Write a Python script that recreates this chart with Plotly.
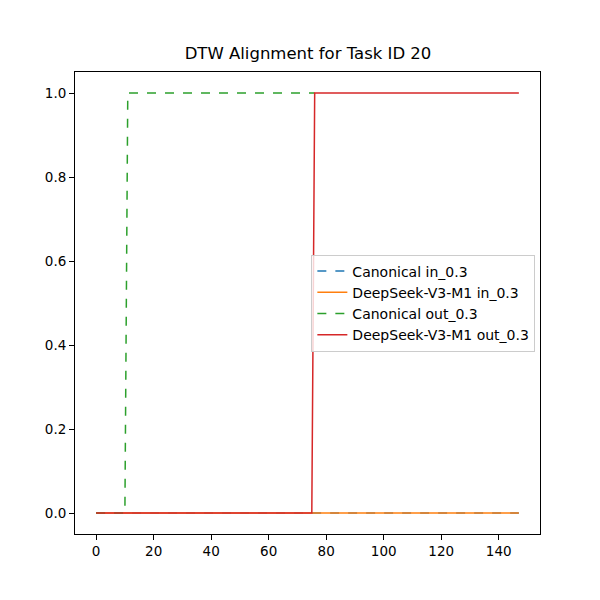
import plotly.graph_objects as go

canon_in_x = [0, 147]
canon_in_y = [0, 0]
ds_in_x = [0, 147]
ds_in_y = [0, 0]
canon_out_x = [0, 10, 11, 76]
canon_out_y = [0, 0, 1, 1]
ds_out_x = [0, 75, 76, 147]
ds_out_y = [0, 0, 1, 1]

fig = go.Figure()
fig.add_trace(go.Scatter(x=canon_in_x, y=canon_in_y, mode="lines", name="Canonical in_0.3",
                         line=dict(color="#1f77b4", dash="dash", width=1.5)))
fig.add_trace(go.Scatter(x=ds_in_x, y=ds_in_y, mode="lines", name="DeepSeek-V3-M1 in_0.3",
                         line=dict(color="#ff7f0e", width=1.5)))
fig.add_trace(go.Scatter(x=canon_out_x, y=canon_out_y, mode="lines", name="Canonical out_0.3",
                         line=dict(color="#2ca02c", dash="dash", width=1.5)))
fig.add_trace(go.Scatter(x=ds_out_x, y=ds_out_y, mode="lines", name="DeepSeek-V3-M1 out_0.3",
                         line=dict(color="#d62728", width=1.5)))

axis_common = dict(showgrid=False, zeroline=False, showline=True, linecolor="black", mirror=True,
                   ticks="outside", ticklen=5, tickcolor="black", tickfont=dict(size=13.5, color="black"))
fig.update_layout(
    width=600, height=600, paper_bgcolor="white", plot_bgcolor="white",
    font=dict(family="DejaVu Sans", color="black"),
    margin=dict(l=67, r=68, t=64, b=74),
    title=dict(text="DTW Alignment for Task ID 20", x=0.5, xanchor="center", y=0.915, yanchor="bottom",
               font=dict(size=16.5)),
    xaxis=dict(range=[-7.35, 154.35], tickvals=[0, 20, 40, 60, 80, 100, 120, 140], **axis_common),
    yaxis=dict(range=[-0.05, 1.05], tickvals=[0, 0.2, 0.4, 0.6, 0.8, 1.0], tickformat=".1f", **axis_common),
    legend=dict(x=0.99, y=0.5, xanchor="right", yanchor="middle", bgcolor="rgba(255,255,255,0.8)",
                bordercolor="#cccccc", borderwidth=1, font=dict(size=14), tracegroupgap=0),
)
fig.write_html("out.html")
